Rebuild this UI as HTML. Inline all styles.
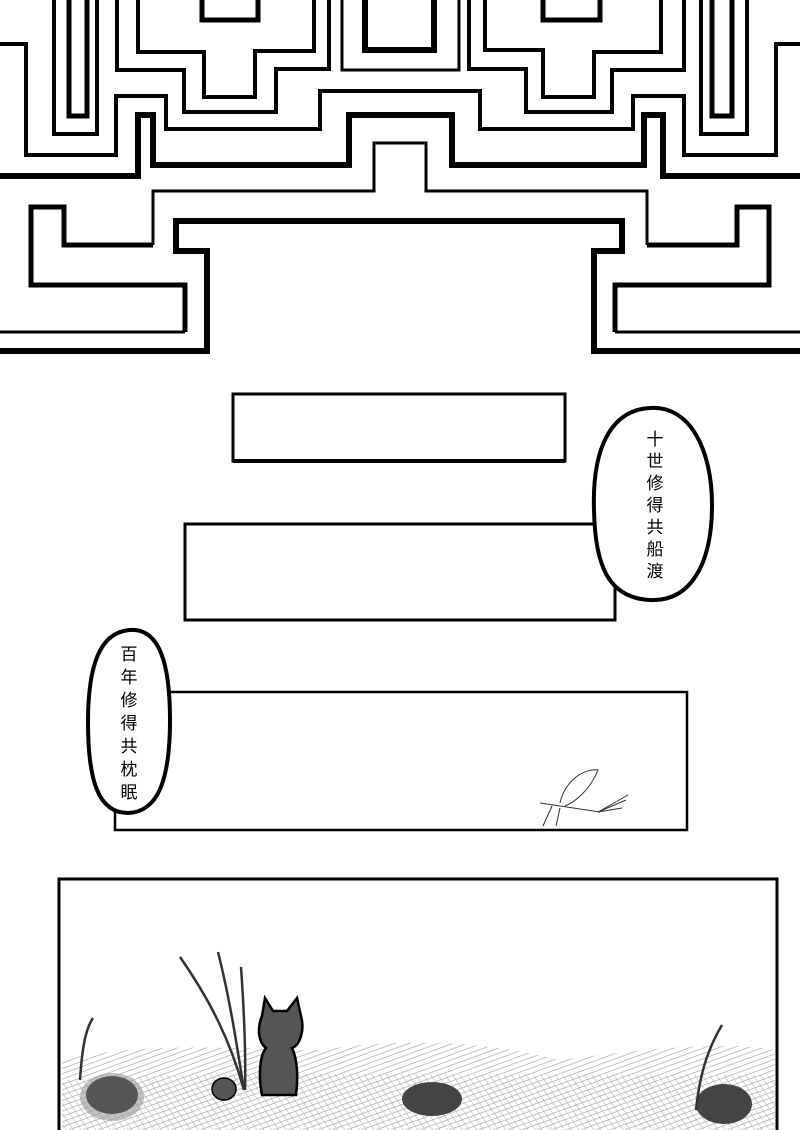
<!DOCTYPE html>
<html><head><meta charset="utf-8"><style>
html,body{margin:0;padding:0;background:#fff;}
svg{display:block;}
text{font-family:"Liberation Sans","Noto Sans CJK SC",sans-serif;}
</style></head><body>
<svg width="800" height="1130" viewBox="0 0 800 1130" xmlns="http://www.w3.org/2000/svg">
<defs>
<pattern id="hatch" width="5" height="5" patternUnits="userSpaceOnUse" patternTransform="rotate(70)">
<line x1="0" y1="0" x2="0" y2="5" stroke="#999" stroke-width="1.3"/>
</pattern>
<pattern id="hatch2" width="6" height="6" patternUnits="userSpaceOnUse" patternTransform="rotate(-35)">
<line x1="0" y1="0" x2="0" y2="6" stroke="#aaa" stroke-width="1.1"/>
</pattern>
</defs>
<g fill="none" stroke="#000" stroke-linejoin="miter">
<polyline stroke-width="6" points="0,351 207,351 207,251 176,251 176,221 622,221 622,251 594,251 594,351 800,351"/>
<polyline stroke-width="3" points="0,332 185,332"/>
<polyline stroke-width="5" points="185,332 185,285 31,285 31,207 64,207 64,245 153,245"/>
<polyline stroke-width="3" points="153,245 153,191 374,191 374,143 426,143 426,191 647,191 647,245"/>
<polyline stroke-width="5" points="647,245 737,245 737,207 769,207 769,285 615,285 615,332"/>
<polyline stroke-width="3" points="615,332 800,332"/>
<polyline stroke-width="6" points="0,176 138,176 138,115 153,115 153,165 349,165 349,115 452,115 452,165 644,165 644,115 663,115 663,176 800,176"/>
<polyline stroke-width="4" points="0,44 26,44 26,155 116,155 116,96 166,96 166,129 320,129 320,91 480,91 480,129 633,129 633,96 684,96 684,155 776,155 776,44 800,44"/>
<polyline stroke-width="4" points="54,0 54,134 97,134 97,0"/>
<polyline stroke-width="4" points="701,0 701,134 747,134 747,0"/>
<polyline stroke-width="5" points="69,0 69,116 87,116 87,0"/>
<polyline stroke-width="5" points="712,0 712,116 732,116 732,0"/>
<polyline stroke-width="4" points="117,0 117,70 184,70 184,112 276,112 276,69 329,69 329,0"/>
<polyline stroke-width="4" points="469,0 469,69 526,69 526,112 612,112 612,70 684,70 684,0"/>
<polyline stroke-width="4" points="138,0 138,52 204,52 204,97 255,97 255,51 314,51 314,0"/>
<polyline stroke-width="4" points="485,0 485,50 543,50 543,97 594,97 594,52 661,52 661,0"/>
<polyline stroke-width="5" points="202,0 202,20 258,20 258,0"/>
<polyline stroke-width="5" points="543,0 543,20 600,20 600,0"/>
<polyline stroke-width="3" points="342,0 342,70 459,70 459,0"/>
<polyline stroke-width="6" points="365,0 365,50 434,50 434,0"/>
<rect x="233" y="394" width="332" height="67" stroke-width="3"/>
<line x1="233" y1="461" x2="565" y2="461" stroke-width="4"/>
<rect x="185" y="524" width="430" height="96" stroke-width="3"/>
<rect x="115" y="692" width="572" height="138" stroke-width="2.5"/>
<rect x="59" y="879" width="718" height="260" stroke-width="3"/>
</g>
<path d="M650,408 C690,405 712,450 712,505 C712,565 690,602 650,600 C608,598 595,565 594,510 C592,450 610,410 650,408 Z" fill="#fff" stroke="#000" stroke-width="4"/>
<path d="M130,630 C160,628 170,665 170,720 C170,780 158,812 128,813 C98,813 88,780 88,722 C88,665 100,632 130,630 Z" fill="#fff" stroke="#000" stroke-width="4"/>
<g font-size="17" text-anchor="middle" fill="#000">
<text x="655" y="445">十</text><text x="655" y="467">世</text><text x="655" y="489">修</text><text x="655" y="511">得</text><text x="655" y="533">共</text><text x="655" y="555">船</text><text x="655" y="577">渡</text>
<text x="129" y="660">百</text><text x="129" y="683">年</text><text x="129" y="706">修</text><text x="129" y="729">得</text><text x="129" y="752">共</text><text x="129" y="775">枕</text><text x="129" y="798">眠</text>
</g>
<g stroke="#333" fill="none" stroke-width="1">
<path d="M540,803 L600,812"/><path d="M560,803 C565,780 585,768 598,770 C590,790 575,802 565,806"/>
<path d="M598,812 L628,795 M598,812 L626,800 M598,812 L622,808"/>
<path d="M552,806 L543,826 M560,808 L556,826"/>
</g>
<g>
<path d="M62,1060 C150,1040 250,1050 320,1050 C420,1035 500,1045 560,1060 C640,1050 720,1040 776,1050 L776,1130 L62,1130 Z" fill="url(#hatch)" opacity="0.9"/>
<path d="M62,1080 C200,1070 400,1075 776,1075 L776,1130 L62,1130 Z" fill="url(#hatch2)" opacity="0.9"/>
<ellipse cx="112" cy="1097" rx="32" ry="24" fill="#999" opacity="0.6"/>
<ellipse cx="112" cy="1095" rx="26" ry="19" fill="#555"/>
<ellipse cx="432" cy="1099" rx="30" ry="17" fill="#444"/>
<ellipse cx="724" cy="1104" rx="28" ry="20" fill="#444"/>
<ellipse cx="224" cy="1089" rx="12" ry="11" fill="#555" stroke="#000" stroke-width="1.5"/>
<g stroke="#333" fill="none" stroke-width="2.5">
<path d="M180,957 C210,1000 230,1040 244,1090"/>
<path d="M218,952 C230,1000 236,1040 244,1090"/>
<path d="M241,967 C244,1010 246,1050 245,1090"/>
<path d="M80,1080 C82,1050 85,1030 93,1018"/>
<path d="M696,1110 C700,1070 710,1045 722,1025"/>
</g>
<path d="M262,1016 L265,998 L273,1011 L287,1011 L297,998 L301,1016 C305,1030 300,1045 292,1048 C298,1060 298,1080 296,1095 L262,1095 C258,1075 260,1055 266,1048 C258,1042 257,1028 262,1016 Z" fill="#555" stroke="#000" stroke-width="2.5"/>
</g>
</svg>
</body></html>
